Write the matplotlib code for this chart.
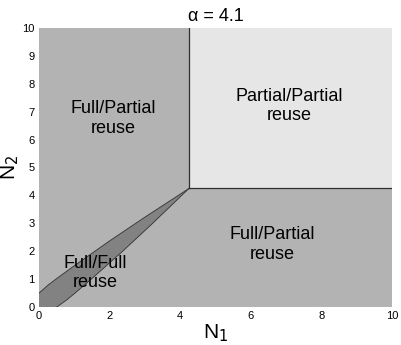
#!/usr/bin/env python3
"""
Reuse regions in the (N1, N2) plane for alpha = 4.1.
"""
import numpy as np
import matplotlib
matplotlib.use('Agg')
import matplotlib.pyplot as plt

plt.rcParams['font.family'] = ['Liberation Sans', 'DejaVu Sans']

# Data
ALPHA = 4.1
AXIS_MAX = 10.0
CORNER = 4.25  # point where the three regions meet
# upper edge of the Full/Full band (N1, N2); the lower edge is its mirror image
BAND_N1 = [0.0, 0.25, 0.5, 1.0, 2.0, 3.0, 4.25]
BAND_N2 = [0.5, 0.78, 1.02, 1.48, 2.37, 3.22, 4.25]
XTICKS = [0, 2, 4, 6, 8, 10]
YTICKS = list(range(0, 11))
LABELS = [
    ('Full/Partial\nreuse', 2.1, 6.75),
    ('Partial/Partial\nreuse', 7.1, 7.2),
    ('Full/Partial\nreuse', 6.6, 2.25),
    ('Full/Full\nreuse', 1.6, 1.22),
]

# Colours
MID_GRAY = '#b3b3b3'
LIGHT_GRAY = '#e6e6e6'
DARK_GRAY = '#828282'
EDGE = '#303030'


def main():
    fig = plt.figure(figsize=(4.02, 3.45), dpi=100)
    ax = fig.add_axes([0.097, 0.110, 0.878, 0.809])

    # background: Full/Partial
    ax.fill([0, AXIS_MAX, AXIS_MAX, 0], [0, 0, AXIS_MAX, AXIS_MAX],
            color=MID_GRAY, lw=0)
    # Partial/Partial corner
    ax.fill([CORNER, AXIS_MAX, AXIS_MAX, CORNER],
            [CORNER, CORNER, AXIS_MAX, AXIS_MAX], color=LIGHT_GRAY, lw=0)
    ax.plot([CORNER, CORNER], [CORNER, AXIS_MAX], color=EDGE, lw=0.9)
    ax.plot([CORNER, AXIS_MAX], [CORNER, CORNER], color=EDGE, lw=0.9)

    # Full/Full band
    up_x = np.array(BAND_N1)
    up_y = np.array(BAND_N2)
    poly_x = np.concatenate([[0.0], up_x, up_y[::-1][1:]])
    poly_y = np.concatenate([[0.0], up_y, up_x[::-1][1:]])
    ax.fill(poly_x, poly_y, color=DARK_GRAY, lw=0)
    ax.plot(up_x, up_y, color=EDGE, lw=0.6)
    ax.plot(up_y, up_x, color=EDGE, lw=0.6)

    for txt, x, y in LABELS:
        ax.text(x, y, txt, ha='center', va='center', fontsize=13,
                linespacing=1.2)

    ax.set_xlim(0, AXIS_MAX)
    ax.set_ylim(0, AXIS_MAX)
    ax.set_xticks(XTICKS)
    ax.set_yticks(YTICKS)
    ax.tick_params(length=0, labelsize=8, pad=3)
    for s in ax.spines.values():
        s.set_visible(False)

    ax.set_title('\u03b1 = %g' % ALPHA, fontsize=13, pad=5)
    ax.set_xlabel(r'N$_1$', fontsize=15, labelpad=1)
    ax.set_ylabel(r'N$_2$', fontsize=15, labelpad=1)

    fig.savefig('out.png', dpi=100)


if __name__ == '__main__':
    main()
